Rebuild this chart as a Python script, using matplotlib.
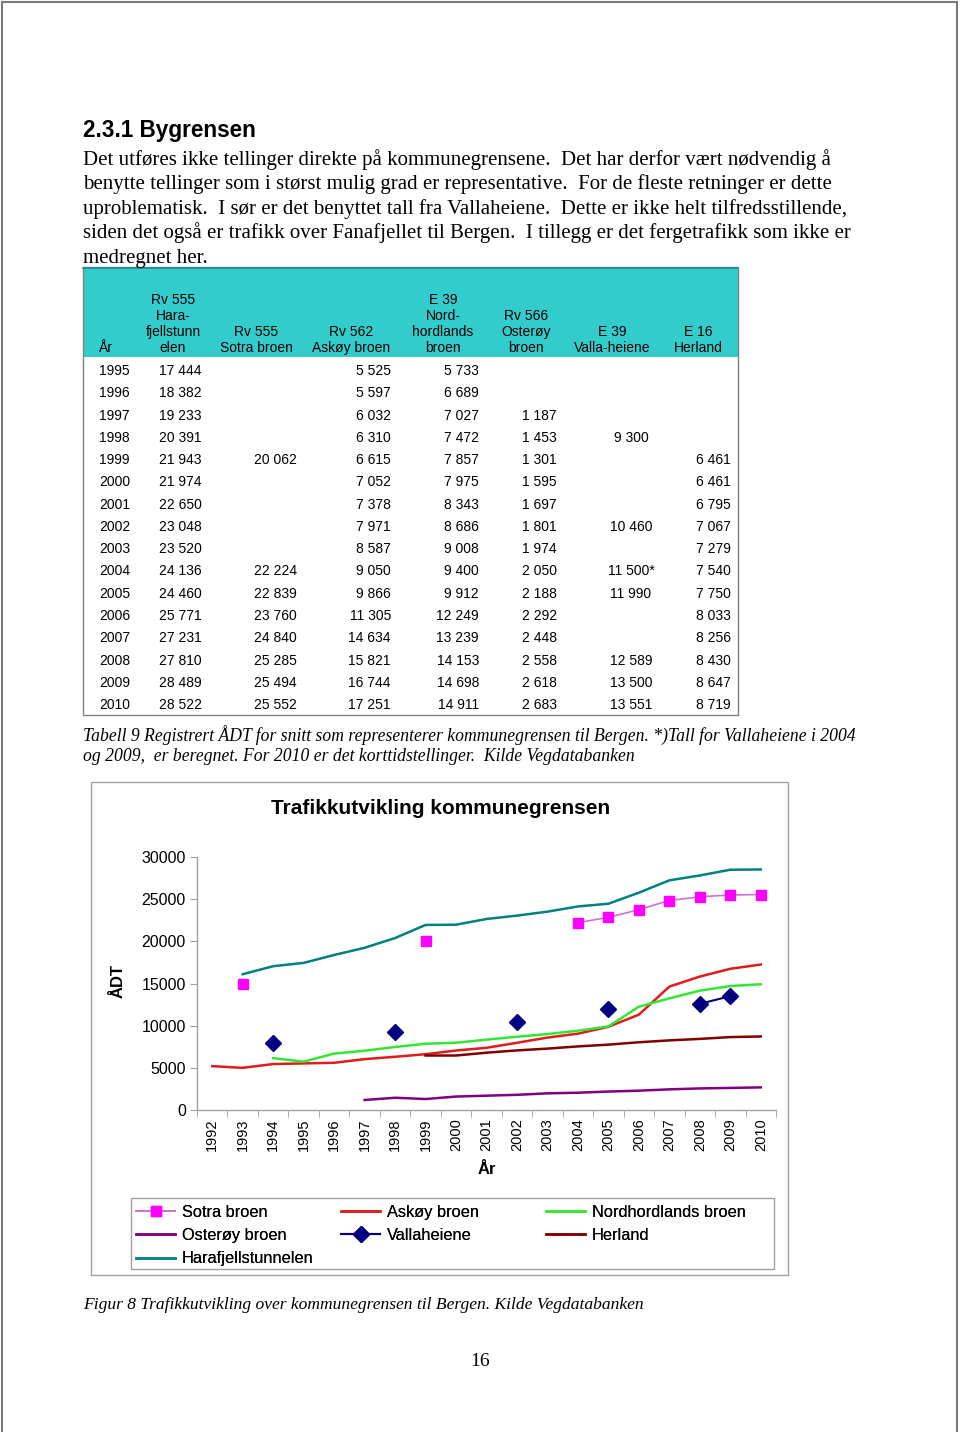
"""
plot.py: page 16 - Bygrensen, table 9 and figure 8 (traffic across the
municipal border of Bergen).
"""

import matplotlib
matplotlib.use("Agg")
import matplotlib.pyplot as plt
import numpy as np
from matplotlib.patches import Rectangle

nan = np.nan

# ── Table 9 data (ÅDT) ────────────────────────────────────────────────────────
table_years = list(range(1995, 2011))
tab_haraf   = [17444, 18382, 19233, 20391, 21943, 21974, 22650, 23048,
               23520, 24136, 24460, 25771, 27231, 27810, 28489, 28522]
tab_sotra   = [None, None, None, None, 20062, None, None, None,
               None, 22224, 22839, 23760, 24840, 25285, 25494, 25552]
tab_askoy   = [5525, 5597, 6032, 6310, 6615, 7052, 7378, 7971,
               8587, 9050, 9866, 11305, 14634, 15821, 16744, 17251]
tab_nordh   = [5733, 6689, 7027, 7472, 7857, 7975, 8343, 8686,
               9008, 9400, 9912, 12249, 13239, 14153, 14698, 14911]
tab_oster   = [None, None, 1187, 1453, 1301, 1595, 1697, 1801,
               1974, 2050, 2188, 2292, 2448, 2558, 2618, 2683]
tab_valla   = [None, None, None, 9300, None, None, None, 10460,
               None, 11500, 11990, None, None, 12589, 13500, 13551]
tab_herland = [None, None, None, None, 6461, 6461, 6795, 7067,
               7279, 7540, 7750, 8033, 8256, 8430, 8647, 8719]
valla_calc  = [2004]          # years marked with * (calculated)

table_headers = [
    ["År"],
    ["Rv 555", "Hara-", "fjellstunn", "elen"],
    ["Rv 555", "Sotra broen"],
    ["Rv 562", "Askøy broen"],
    ["E 39", "Nord-", "hordlands", "broen"],
    ["Rv 566", "Osterøy", "broen"],
    ["E 39", "Valla-heiene"],
    ["E 16", "Herland"],
]

# ── Figure 8 data (chart categories 1992-2010) ────────────────────────────────
chart_years = [str(y) for y in range(1992, 2011)]
c_sotra   = [nan, 14900, nan, nan, nan, nan, nan, 20062, nan, nan, nan, nan,
             22224, 22839, 23760, 24840, 25285, 25494, 25552]
c_askoy   = [5200, 5000, 5450, 5525, 5597, 6032, 6310, 6615, 7052, 7378,
             7971, 8587, 9050, 9866, 11305, 14634, 15821, 16744, 17251]
c_nordh   = [nan, nan, 6150, 5733, 6689, 7027, 7472, 7857, 7975, 8343,
             8686, 9008, 9400, 9912, 12249, 13239, 14153, 14698, 14911]
c_oster   = [nan, nan, nan, nan, nan, 1187, 1453, 1301, 1595, 1697,
             1801, 1974, 2050, 2188, 2292, 2448, 2558, 2618, 2683]
c_valla   = [nan, nan, 8000, nan, nan, nan, 9300, nan, nan, nan,
             10460, nan, nan, 11990, nan, nan, 12589, 13500, nan]
c_herland = [nan, nan, nan, nan, nan, nan, nan, 6461, 6461, 6795,
             7067, 7279, 7540, 7750, 8033, 8256, 8430, 8647, 8719]
c_haraf   = [nan, 16100, 17050, 17444, 18382, 19233, 20391, 21943, 21974,
             22650, 23048, 23520, 24136, 24460, 25771, 27231, 27810, 28489,
             28522]

# ── Text ──────────────────────────────────────────────────────────────────────
heading = "2.3.1 Bygrensen"
body_lines = [
    "Det utføres ikke tellinger direkte på kommunegrensene.  Det har derfor vært nødvendig å",
    "benytte tellinger som i størst mulig grad er representative.  For de fleste retninger er dette",
    "uproblematisk.  I sør er det benyttet tall fra Vallaheiene.  Dette er ikke helt tilfredsstillende,",
    "siden det også er trafikk over Fanafjellet til Bergen.  I tillegg er det fergetrafikk som ikke er",
    "medregnet her.",
]
table_caption = [
    "Tabell 9 Registrert ÅDT for snitt som representerer kommunegrensen til Bergen. *)Tall for Vallaheiene i 2004",
    "og 2009,  er beregnet. For 2010 er det korttidstellinger.  Kilde Vegdatabanken",
]
fig_caption = "Figur 8 Trafikkutvikling over kommunegrensen til Bergen. Kilde Vegdatabanken"
page_no = "16"

SERIF = "Liberation Serif"
SANS = "Liberation Sans"
W, H = 960, 1432


def fmt(v):
    return f"{v:,}".replace(",", " ")


fig = plt.figure(figsize=(W / 100, H / 100), dpi=100)
page = fig.add_axes([0, 0, 1, 1])
page.set_xlim(0, W)
page.set_ylim(H, 0)
page.axis("off")

# page frame
for xs, ys in [([2, 2], [2, H]), ([2, 957], [2, 2]), ([957, 957], [2, H])]:
    page.plot(xs, ys, color="#7a7a7a", lw=1.5)

# heading and body text
page.text(83, 137, heading, family=SANS, weight="bold", fontsize=16.3, va="baseline")
for i, line in enumerate(body_lines):
    page.text(83, 165 + 24.4 * i, line, family=SERIF, fontsize=15, va="baseline")

# ── Table ─────────────────────────────────────────────────────────────────────
page.add_patch(Rectangle((83, 267), 655, 90, facecolor="#33CCCC", edgecolor="none"))
page.add_patch(Rectangle((83, 267), 655, 448, facecolor="none", edgecolor="#808080", lw=1))
page.plot([83, 738], [267.5, 267.5], color="#1f8f8f", lw=1.2)

head_x = [99, 173, 256, 351, 443, 526, 612, 698]
for j, lines in enumerate(table_headers):
    n = len(lines)
    for k, txt in enumerate(lines):
        y = 348 - 16 * (n - 1 - k)
        if j == 0:
            page.text(head_x[j], y, txt, family=SANS, fontsize=10, va="center", ha="left")
        else:
            page.text(head_x[j], y, txt, family=SANS, fontsize=10, va="center", ha="center")

cols = [
    (tab_haraf, 159, "left"),
    (tab_sotra, 297, "right"),
    (tab_askoy, 391, "right"),
    (tab_nordh, 479, "right"),
    (tab_oster, 522, "left"),
    (tab_valla, 631, "center"),
    (tab_herland, 731, "right"),
]
for i, yr in enumerate(table_years):
    y = 371 + 22.27 * i
    page.text(99, y, str(yr), family=SANS, fontsize=10, va="center")
    for values, x, ha in cols:
        v = values[i]
        if v is None:
            continue
        s = fmt(v)
        if values is tab_valla and yr in valla_calc:
            s += "*"
        page.text(x, y, s, family=SANS, fontsize=10, va="center", ha=ha)

for i, line in enumerate(table_caption):
    page.text(83, 741 + 20 * i, line, family=SERIF, style="italic", fontsize=12.7, va="baseline")

# ── Chart ─────────────────────────────────────────────────────────────────────
page.add_patch(Rectangle((91, 782), 697, 493, facecolor="none", edgecolor="#a0a0a0", lw=1))
page.text(441, 808, "Trafikkutvikling kommunegrensen", family=SANS, weight="bold",
          fontsize=15, ha="center", va="center")

x0, x1, y0, y1 = 197, 776, 857, 1110
ax = fig.add_axes([x0 / W, 1 - y1 / H, (x1 - x0) / W, (y1 - y0) / H])
ax.patch.set_alpha(0)
x = np.arange(len(chart_years))

series = [
    ("Sotra broen", c_sotra, dict(color="#d070d0", lw=1.2, marker="s", ms=7,
                                  mfc="#ff00ff", mec="#ff00ff")),
    ("Askøy broen", c_askoy, dict(color="#e01b1b", lw=1.8)),
    ("Nordhordlands broen", c_nordh, dict(color="#33e633", lw=1.8)),
    ("Osterøy broen", c_oster, dict(color="#800080", lw=1.8)),
    ("Vallaheiene", c_valla, dict(color="#000080", lw=1.5, marker="D", ms=8,
                                  mfc="#000080", mec="#000080")),
    ("Herland", c_herland, dict(color="#800000", lw=1.8)),
    ("Harafjellstunnelen", c_haraf, dict(color="#008080", lw=1.8)),
]
handles = {}
for label, vals, kw in series:
    (h,) = ax.plot(x, vals, label=label, clip_on=False, **kw)
    handles[label] = h

ax.set_xlim(-0.5, len(chart_years) - 0.5)
ax.set_ylim(0, 30000)
ax.set_yticks(range(0, 30001, 5000))
ax.set_yticklabels([str(v) for v in range(0, 30001, 5000)], family=SANS, fontsize=11.5)
ax.set_xticks(x)
ax.set_xticklabels(chart_years, rotation=90, family=SANS, fontsize=10.5)
ax.set_xticks(np.arange(-0.5, len(chart_years)), minor=True)
ax.tick_params(axis="x", which="major", length=0, pad=6)
ax.tick_params(axis="x", which="minor", length=5, direction="out", color="#a0a0a0")
ax.tick_params(axis="y", length=5, direction="out", color="#a0a0a0", pad=3)
for s in ("top", "right"):
    ax.spines[s].set_visible(False)
for s in ("left", "bottom"):
    ax.spines[s].set_color("#a0a0a0")
    ax.spines[s].set_linewidth(1)

page.text(118, 981, "ÅDT", family=SANS, weight="bold", fontsize=12, rotation=90,
          ha="center", va="center")
page.text(487, 1169, "År", family=SANS, weight="bold", fontsize=12,
          ha="center", va="center")

# legend: three columns, evenly spaced like the original
page.add_patch(Rectangle((131, 1198), 643, 71, facecolor="none", edgecolor="#a0a0a0", lw=1))
legend_cols = [
    (["Sotra broen", "Osterøy broen", "Harafjellstunnelen"], 131),
    (["Askøy broen", "Vallaheiene"], 336),
    (["Nordhordlands broen", "Herland"], 541),
]
for labels, lx in legend_cols:
    leg = fig.legend([handles[l] for l in labels], labels, loc="upper left",
                     bbox_to_anchor=(lx / W, 1 - 1200 / H), frameon=False,
                     prop=dict(family=SANS, size=11.8), handlelength=2.4,
                     handletextpad=0.4, labelspacing=0.5, borderpad=0.3,
                     borderaxespad=0)
    fig.add_artist(leg)

page.text(83, 1309, fig_caption, family=SERIF, style="italic", fontsize=12.6, va="baseline")
page.text(480, 1366, page_no, family=SERIF, fontsize=14, ha="center", va="baseline")

fig.savefig("out.png", dpi=100)
